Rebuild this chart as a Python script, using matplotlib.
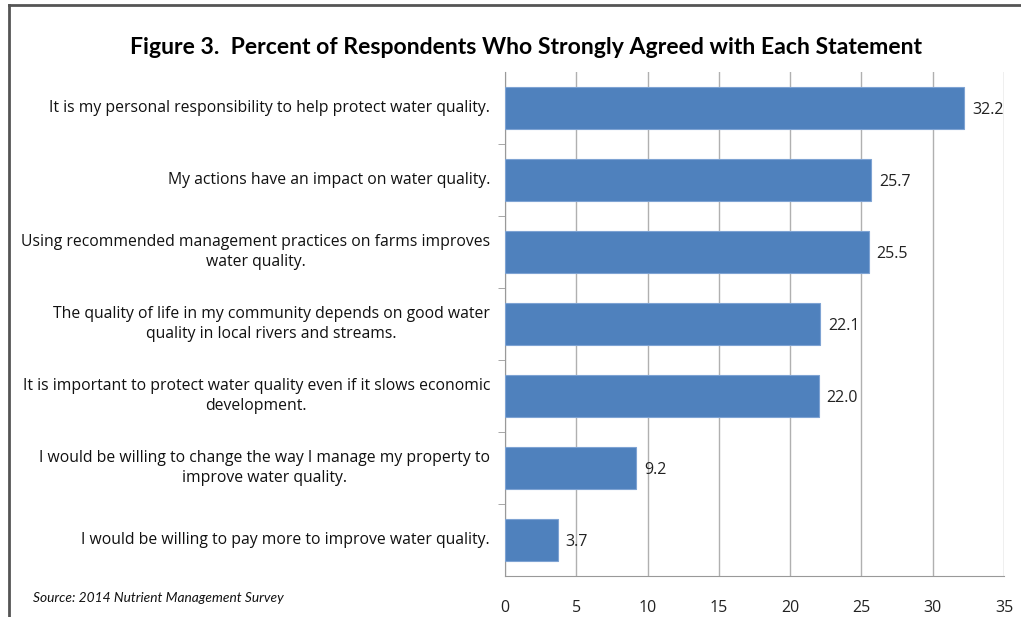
import matplotlib.pyplot as plt
from matplotlib.lines import Line2D

statements = [
    "It is my personal responsibility to help protect water quality.",
    "My actions have an impact on water quality.",
    "Using recommended management practices on farms improves\nwater quality.",
    "The quality of life in my community depends on good water\nquality in local rivers and streams.",
    "It is important to protect water quality even if it slows economic\ndevelopment.",
    "I would be willing to change the way I manage my property to\nimprove water quality.",
    "I would be willing to pay more to improve water quality.",
]
pct_agree = [32.2, 25.7, 25.5, 22.1, 22.0, 9.2, 3.7]
x_ticks = [0, 5, 10, 15, 20, 25, 30, 35]

W, H = 1021, 617
fig = plt.figure(figsize=(W / 100, H / 100), dpi=100)
ax = fig.add_axes([505 / W, 1 - 576 / H, (1004 - 505) / W, (576 - 72) / H])

ypos = list(range(len(statements)))
ax.barh(ypos, pct_agree, height=0.58, color="#4f81bd", edgecolor="#7ea3d3", linewidth=0.8, zorder=3)
ax.set_ylim(len(statements) - 0.5, -0.5)
ax.set_xlim(0, 35)
ax.set_xticks(x_ticks)
ax.set_xticklabels([str(t) for t in x_ticks], family="Open Sans", fontsize=11.5, color="#222222")
ax.tick_params(axis="x", length=0, pad=17)

# category labels, centred lines in a right-aligned block
ax.set_yticks([])
for y, s in zip(ypos, statements):
    ax.text(-1.05, y, s, ha="right", va="center", multialignment="center",
            family="Open Sans", fontsize=11.3, color="#111111", linespacing=1.3)
# small minor ticks between categories on the left axis
ax.set_yticks([y + 0.5 for y in ypos[:-1]], minor=True)
ax.tick_params(axis="y", which="minor", length=5, color="#999999", direction="out")

for y, v in zip(ypos, pct_agree):
    ax.text(v + 0.55, y + 0.03, f"{v:.1f}", ha="left", va="center",
            family="Open Sans", fontsize=11.5, color="#222222", zorder=4)

ax.grid(axis="x", color="#b0b0b0", linewidth=1, zorder=0)
for side in ["top", "right"]:
    ax.spines[side].set_visible(False)
ax.spines["left"].set_color("#999999")
ax.spines["bottom"].set_color("#999999")

fig.text(526 / W, 1 - 48 / H, "Figure 3.  Percent of Respondents Who Strongly Agreed with Each Statement",
         ha="center", va="center", family="Lato",
         fontsize=16.6, fontweight="bold", color="#000000")
fig.text(33 / W, 1 - 598 / H, "Source: 2014 Nutrient Management Survey", ha="left", va="center",
         family="Lato", fontsize=9.9, style="italic", color="#111111")

# outer frame: top and left edges
fig.add_artist(Line2D([9 / W, 1], [1 - 5 / H, 1 - 5 / H], color="#555555", linewidth=2, transform=fig.transFigure))
fig.add_artist(Line2D([9 / W, 9 / W], [0, 1 - 5 / H], color="#555555", linewidth=2, transform=fig.transFigure))

fig.savefig("out.png", dpi=100)
